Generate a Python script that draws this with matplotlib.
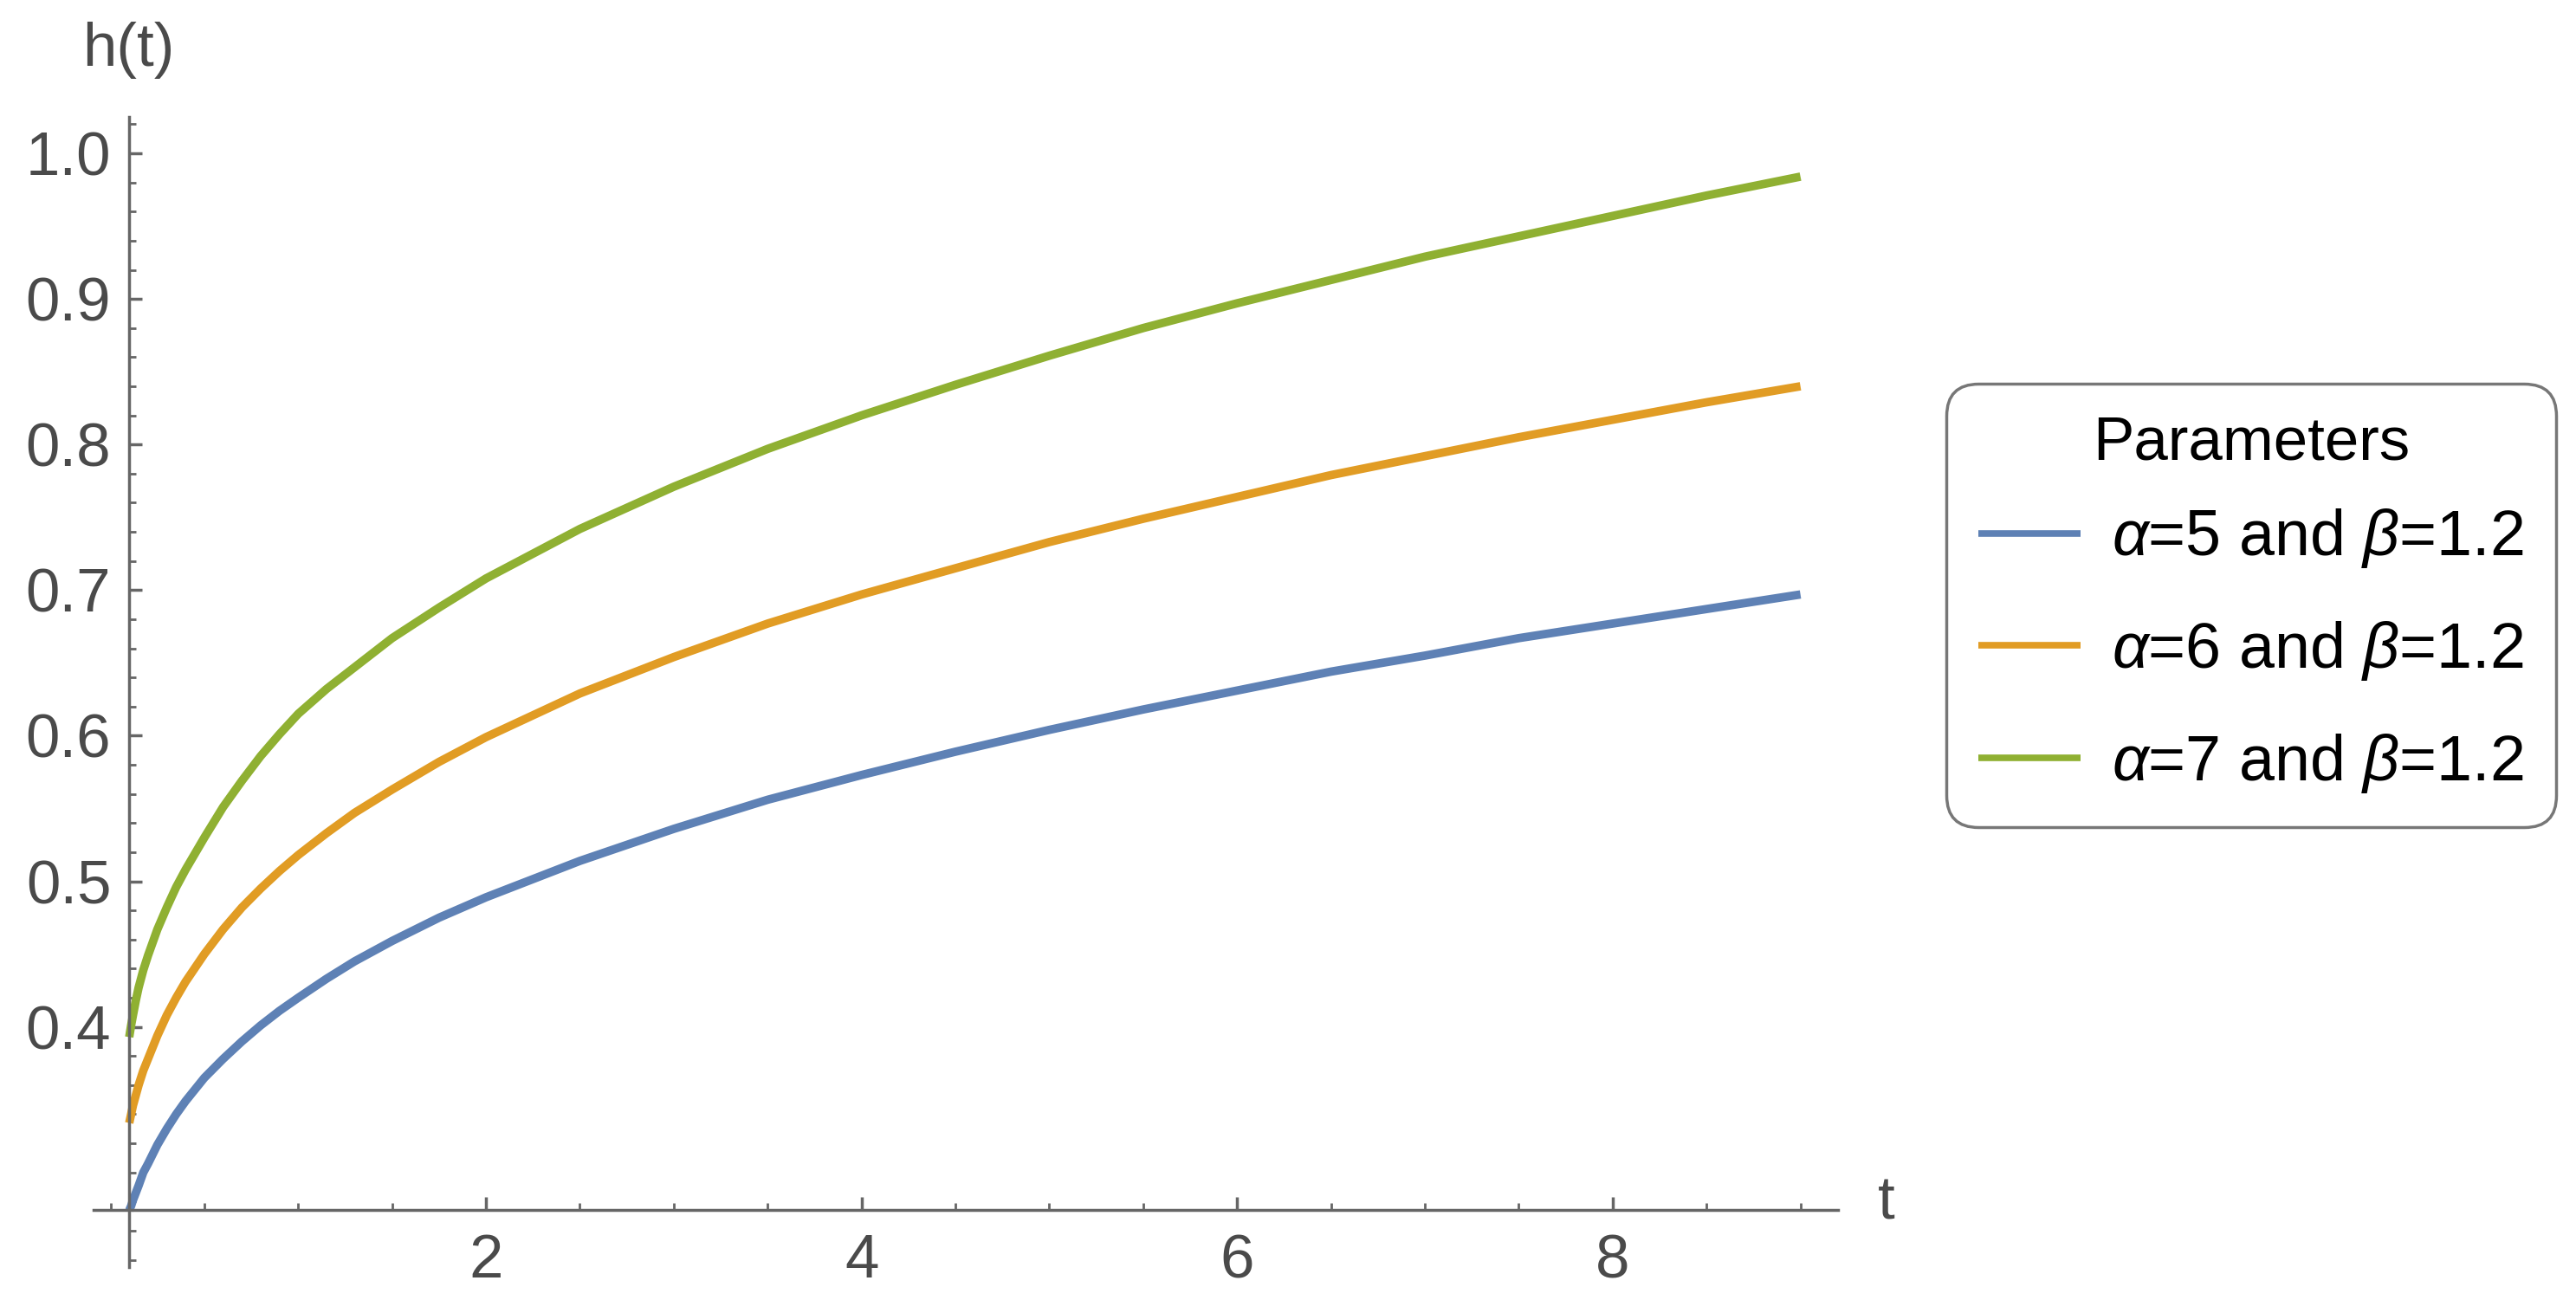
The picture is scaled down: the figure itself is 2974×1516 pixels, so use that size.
import matplotlib
matplotlib.use("Agg")
import matplotlib.pyplot as plt
from matplotlib.ticker import FixedLocator, MultipleLocator, NullFormatter, FixedFormatter

plt.rcParams['font.family'] = ['Liberation Sans', 'DejaVu Sans']
plt.rcParams['mathtext.fontset'] = 'custom'
plt.rcParams['mathtext.rm'] = 'Liberation Sans'
plt.rcParams['mathtext.it'] = 'Liberation Sans:italic'

# ---- data ----
t_vals = [0.1, 0.11, 0.12, 0.135, 0.15, 0.175, 0.2, 0.25, 0.3, 0.35, 0.4, 0.5, 0.6, 0.7, 0.8, 0.9,
          1.0, 1.15, 1.3, 1.5, 1.75, 2.0, 2.5, 3.0, 3.5, 4.0, 4.5, 5.0, 5.5, 6.0, 6.5, 7.0, 7.5,
          8.0, 8.5, 9.0]
h_alpha5 = [0.274, 0.277, 0.281, 0.286, 0.291, 0.300, 0.306, 0.319, 0.330, 0.340, 0.349, 0.365, 0.378,
            0.390, 0.401, 0.411, 0.420, 0.433, 0.445, 0.459, 0.475, 0.489, 0.514, 0.536, 0.556, 0.573,
            0.589, 0.604, 0.618, 0.631, 0.644, 0.655, 0.667, 0.677, 0.687, 0.697]
h_alpha6 = [0.334, 0.340, 0.346, 0.353, 0.360, 0.370, 0.378, 0.394, 0.408, 0.420, 0.431, 0.450, 0.467,
            0.482, 0.495, 0.507, 0.518, 0.533, 0.547, 0.563, 0.582, 0.599, 0.629, 0.654, 0.677, 0.697,
            0.715, 0.733, 0.749, 0.764, 0.779, 0.792, 0.805, 0.817, 0.829, 0.840]
h_alpha7 = [0.393, 0.401, 0.408, 0.418, 0.427, 0.439, 0.449, 0.467, 0.482, 0.496, 0.508, 0.530, 0.551,
            0.569, 0.586, 0.601, 0.615, 0.632, 0.647, 0.667, 0.688, 0.708, 0.742, 0.771, 0.797, 0.820,
            0.841, 0.861, 0.880, 0.897, 0.913, 0.929, 0.943, 0.957, 0.971, 0.984]
series_labels = [r'$\alpha$=5 and $\beta$=1.2', r'$\alpha$=6 and $\beta$=1.2', r'$\alpha$=7 and $\beta$=1.2']
series_colors = ['#5E81B5', '#E19C24', '#8FB032']
x_tick_labels = ['2', '4', '6', '8']
x_tick_pos = [2, 4, 6, 8]
y_tick_pos = [0.4, 0.5, 0.6, 0.7, 0.8, 0.9, 1.0]
y_tick_labels = ['0.4', '0.5', '0.6', '0.7', '0.8', '0.9', '1.0']

W, H = 2974, 1516
fig = plt.figure(figsize=(W / 100, H / 100), dpi=100)
ax = fig.add_axes([108 / W, 1 - 1463 / H, (2122 - 108) / W, (1463 - 135) / H])
ax.set_xlim(-0.09, 9.2)
ax.set_ylim(0.235, 1.025)

for ys, c, lab in zip([h_alpha5, h_alpha6, h_alpha7], series_colors, series_labels):
    ax.plot(t_vals, ys, color=c, lw=7.0, label=lab, solid_capstyle='butt',
            solid_joinstyle='round', zorder=3)

axis_col = '#666666'
text_col = '#4a4a4a'
for s in ['top', 'right']:
    ax.spines[s].set_visible(False)
ax.spines['left'].set_position(('data', 0.1))
ax.spines['bottom'].set_position(('data', 0.2745))
for s in ['left', 'bottom']:
    ax.spines[s].set_color(axis_col)
    ax.spines[s].set_linewidth(2.5)
    ax.spines[s].set_zorder(4)

ax.xaxis.set_major_locator(FixedLocator(x_tick_pos))
ax.xaxis.set_major_formatter(FixedFormatter(x_tick_labels))
ax.xaxis.set_minor_locator(FixedLocator([0, 0.5, 1, 1.5, 2.5, 3, 3.5, 4.5, 5, 5.5, 6.5, 7, 7.5, 8.5, 9]))
ax.xaxis.set_minor_formatter(NullFormatter())
ax.yaxis.set_major_locator(FixedLocator(y_tick_pos))
ax.yaxis.set_major_formatter(FixedFormatter(y_tick_labels))
ax.yaxis.set_minor_locator(MultipleLocator(0.02))
ax.yaxis.set_minor_formatter(NullFormatter())

ax.tick_params(axis='both', which='major', direction='in', length=10.5, width=2.5,
               color=axis_col, labelsize=51, labelcolor=text_col)
ax.tick_params(axis='both', which='minor', direction='in', length=6, width=2.0, color=axis_col)
ax.tick_params(axis='x', which='major', pad=20)
ax.tick_params(axis='y', which='major', pad=15)

fig.text(148 / W, 1 - 58 / H, 'h(t)', fontsize=51, color=text_col, ha='center', va='center')
fig.text(2178 / W, 1 - 1390 / H, 't', fontsize=51, color=text_col, ha='center', va='center')

leg = ax.legend(loc='upper left', bbox_to_anchor=(2247 / W, 1 - 443 / H), bbox_transform=fig.transFigure,
                title='Parameters', fontsize=53, title_fontsize=51, frameon=True, fancybox=True,
                handlelength=1.6, handletextpad=0.5, labelspacing=0.77, borderpad=0.5,
                borderaxespad=0)
leg._legend_box.sep = 20.5 * 100 / 72
frame = leg.get_frame()
frame.set_edgecolor('#555555')
frame.set_linewidth(2.5)
frame.set_boxstyle('round,pad=0,rounding_size=0.5')
for line in leg.get_lines():
    line.set_linewidth(5.5)

fig.savefig('out.png', dpi=100, facecolor='white')
